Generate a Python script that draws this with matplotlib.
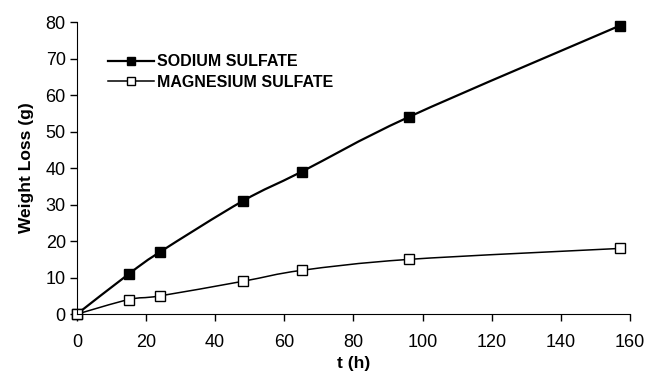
import numpy as np
import matplotlib.pyplot as plt
from matplotlib.path import Path
from matplotlib.patches import PathPatch
from matplotlib.lines import Line2D

plt.rcParams['font.family'] = ['Liberation Sans', 'DejaVu Sans']

t = [0, 15, 24, 48, 65, 96, 157]
sodium = [0, 11, 17, 31, 39, 54, 79]
magnesium = [0, 4, 5, 9, 12, 15, 18]


def smooth_path(x, y):
    # excel style smoothed line: cubic bezier through the points
    x = np.asarray(x, float)
    y = np.asarray(y, float)
    verts = [(x[0], y[0])]
    codes = [Path.MOVETO]
    n = len(x)
    for i in range(n - 1):
        p0 = np.array([x[max(i - 1, 0)], y[max(i - 1, 0)]])
        p1 = np.array([x[i], y[i]])
        p2 = np.array([x[i + 1], y[i + 1]])
        p3 = np.array([x[min(i + 2, n - 1)], y[min(i + 2, n - 1)]])
        c1 = p1 + (p2 - p0) / 6
        c2 = p2 - (p3 - p1) / 6
        verts += [tuple(c1), tuple(c2), tuple(p2)]
        codes += [Path.CURVE4] * 3
    return Path(verts, codes)


fig = plt.figure(figsize=(6.57, 3.74), dpi=100)
ax = fig.add_axes([0.117, 0.160, 0.842, 0.781])

ax.add_patch(PathPatch(smooth_path(t, sodium), fill=False, lw=1.6, color='black'))
ax.add_patch(PathPatch(smooth_path(t, magnesium), fill=False, lw=1.1, color='black'))
ax.plot(t, sodium, ls='none', marker='s', ms=7.3, mfc='black', mec='black', clip_on=False)
ax.plot(t, magnesium, ls='none', marker='s', ms=7.3, mfc='white', mec='black', mew=1.0, clip_on=False)

h1 = Line2D([], [], color='black', lw=1.6, marker='s', ms=6, mfc='black')
h2 = Line2D([], [], color='black', lw=1.1, marker='s', ms=5.5, mfc='white', mew=1.0)
leg = ax.legend([h1, h2], ['SODIUM SULFATE', 'MAGNESIUM SULFATE'],
                loc='upper left', bbox_to_anchor=(0.056, 0.89), frameon=False,
                borderaxespad=0, borderpad=0,
                prop={'weight': 'bold', 'size': 11.5}, handlelength=2.9,
                handletextpad=0.2, labelspacing=0.35)

ax.set_xlim(0, 160)
ax.set_ylim(0, 80)
ax.set_xticks(range(0, 161, 20))
ax.set_yticks(range(0, 81, 10))
ax.spines['top'].set_visible(False)
ax.spines['right'].set_visible(False)
ax.tick_params(direction='out', length=5, width=1, labelsize=13, pad=3)
ax.tick_params(axis='x', pad=9)
ax.set_xlabel('t (h)', fontsize=12.5, fontweight='bold', labelpad=4)
ax.set_ylabel('Weight Loss (g)', fontsize=12.5, fontweight='bold', labelpad=8)

fig.savefig('out.png', dpi=100)
